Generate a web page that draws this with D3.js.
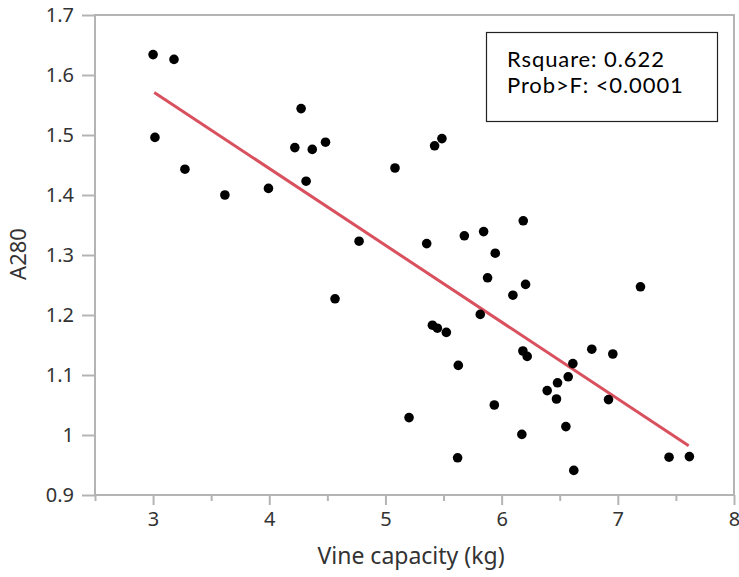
<!DOCTYPE html>
<html>
<head>
<meta charset="utf-8">
<script src="https://cdn.jsdelivr.net/npm/d3@7"></script>
<style>
  body { margin: 0; background: #fff; }
  svg { display: block; }
</style>
</head>
<body>
<div id="chart"></div>
<script>
// vine capacity (kg) and A280 for each sample
var capacity = [3.00, 3.18, 3.016, 3.274, 3.618, 3.993, 4.274, 4.22, 4.37, 4.317,
    4.484, 5.486, 5.423, 5.082, 6.186, 4.773, 5.355, 5.679, 5.845, 5.945,
    5.879, 6.206, 6.097, 4.566, 5.816, 7.195, 6.183, 6.22, 6.776, 6.957,
    6.613, 6.573, 6.481, 6.392, 6.472, 6.92, 5.404, 5.447, 5.524, 5.627,
    5.937, 5.203, 6.553, 6.174, 5.621, 6.621, 7.441, 7.616];
var a280 = [1.634, 1.626, 1.496, 1.443, 1.400, 1.411, 1.544, 1.479, 1.476, 1.423,
    1.488, 1.494, 1.482, 1.445, 1.357, 1.323, 1.319, 1.332, 1.339, 1.303,
    1.262, 1.251, 1.233, 1.227, 1.201, 1.247, 1.140, 1.131, 1.143, 1.135,
    1.119, 1.097, 1.087, 1.074, 1.060, 1.059, 1.183, 1.178, 1.171, 1.116,
    1.050, 1.029, 1.014, 1.001, 0.962, 0.941, 0.963, 0.964];

// fitted line ends
var fitX = [3.01, 7.61];
var fitY = [1.571, 0.982];

var xTicks = [3, 4, 5, 6, 7, 8];
var xMinor = [2.5, 3.5, 4.5, 5.5, 6.5, 7.5];
var yTicks = [0.9, 1, 1.1, 1.2, 1.3, 1.4, 1.5, 1.6, 1.7];
var yLabels = ['0.9', '1', '1.1', '1.2', '1.3', '1.4', '1.5', '1.6', '1.7'];

var statLines = ['Rsquare: 0.622', 'Prob>F: <0.0001'];

var width = 739, height = 577;
var margin = {top: 15, right: 5, bottom: 82, left: 95};
var w = width - margin.left - margin.right;
var h = height - margin.top - margin.bottom;

var axisColor = '#b4b4b4';
var font = '"Noto Sans", sans-serif';

var svg = d3.select('#chart')
    .append('svg')
    .attr('width', width)
    .attr('height', height);

var g = svg.append('g')
    .attr('transform', 'translate(' + margin.left + ',' + margin.top + ')');

var x = d3.scaleLinear().domain([2.5, 8]).range([0, w]);
var y = d3.scaleLinear().domain([0.9, 1.7]).range([h, 0]);

// frame
g.append('rect')
    .attr('x', 0).attr('y', 0)
    .attr('width', w).attr('height', h)
    .attr('fill', 'none')
    .attr('stroke', axisColor)
    .attr('stroke-width', 2);

// y axis
var yAxis = g.append('g')
    .call(d3.axisLeft(y)
        .tickValues(yTicks)
        .tickSize(13)
        .tickSizeOuter(0)
        .tickPadding(8)
        .tickFormat(function(d, i) { return yLabels[i]; }));

// x minor ticks
var xMinorAxis = g.append('g')
    .attr('transform', 'translate(0,' + h + ')')
    .call(d3.axisBottom(x)
        .tickValues(xMinor)
        .tickSize(6)
        .tickSizeOuter(0)
        .tickFormat(''));

// x axis
var xAxis = g.append('g')
    .attr('transform', 'translate(0,' + h + ')')
    .call(d3.axisBottom(x)
        .tickValues(xTicks)
        .tickSize(10)
        .tickSizeOuter(0)
        .tickPadding(7)
        .tickFormat(d3.format('d')));

[yAxis, xAxis, xMinorAxis].forEach(function(a) {
    a.select('.domain').remove();
    a.selectAll('.tick line')
        .attr('stroke', axisColor)
        .attr('stroke-width', 2);
    a.selectAll('.tick text')
        .attr('fill', '#333')
        .style('font-family', font)
        .style('font-size', '20px');
});

// axis titles
svg.append('text')
    .attr('x', 411)
    .attr('y', 564)
    .attr('text-anchor', 'middle')
    .attr('fill', '#333')
    .style('font-family', font)
    .style('font-size', '23px')
    .text('Vine capacity (kg)');

svg.append('text')
    .attr('transform', 'translate(26,254) rotate(-90)')
    .attr('text-anchor', 'middle')
    .attr('fill', '#333')
    .style('font-family', font)
    .style('font-size', '22px')
    .text('A280');

// fit line
g.append('line')
    .attr('x1', x(fitX[0])).attr('y1', y(fitY[0]))
    .attr('x2', x(fitX[1])).attr('y2', y(fitY[1]))
    .attr('stroke', '#d9505e')
    .attr('stroke-width', 3);

// points
g.selectAll('circle')
    .data(capacity)
    .enter()
    .append('circle')
        .attr('cx', function(d) { return x(d); })
        .attr('cy', function(d, i) { return y(a280[i]); })
        .attr('r', 4.8)
        .attr('fill', '#000');

// stats box
svg.append('rect')
    .attr('x', 486.5).attr('y', 32.5)
    .attr('width', 231).attr('height', 89)
    .attr('fill', '#fff')
    .attr('stroke', '#222')
    .attr('stroke-width', 1.2);

svg.selectAll('.stat')
    .data(statLines)
    .enter()
    .append('text')
        .attr('class', 'stat')
        .attr('x', 507)
        .attr('y', function(d, i) { return 67 + i * 26; })
        .attr('fill', '#000')
        .style('font-family', 'Lato, sans-serif')
        .style('font-size', '22px')
        .style('letter-spacing', '0.9px')
        .text(function(d) { return d; });
</script>
</body>
</html>
